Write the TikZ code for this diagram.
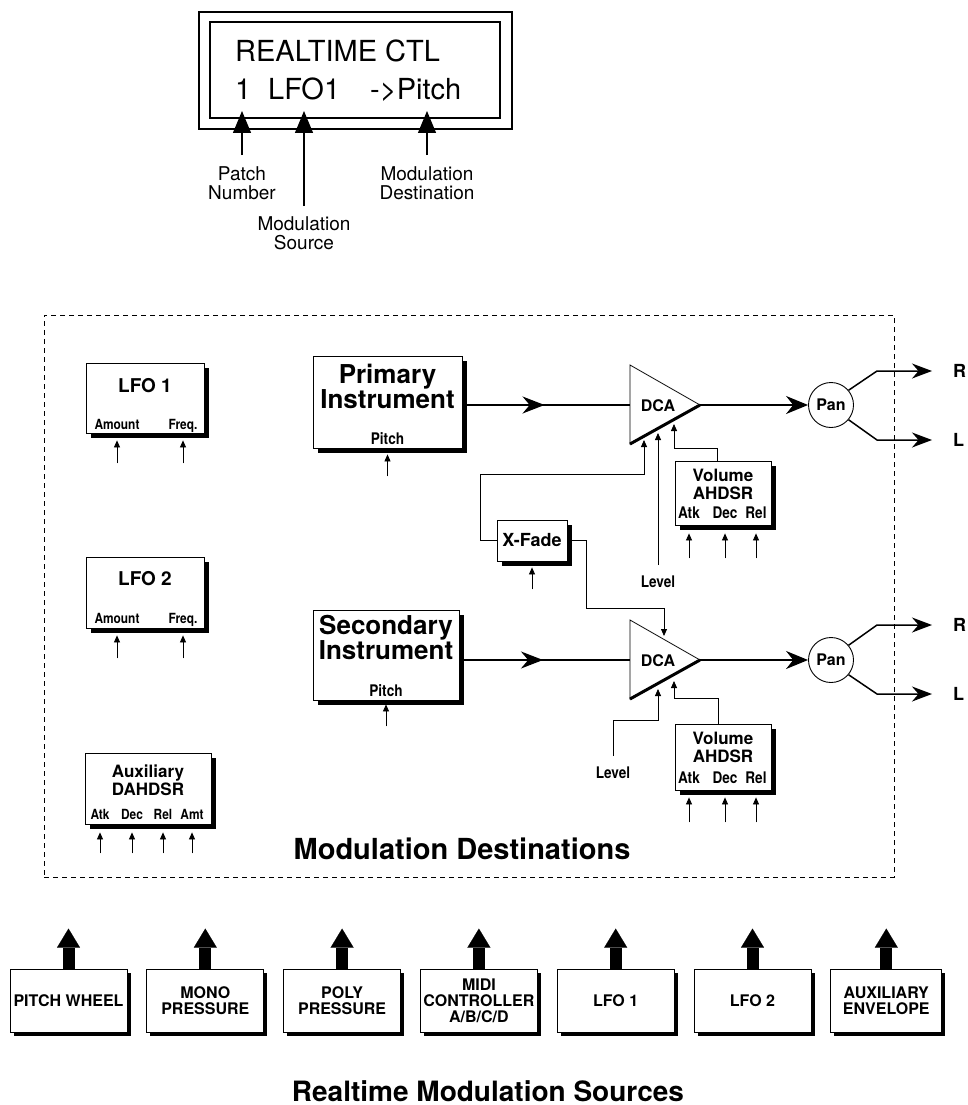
\documentclass[tikz,border=0pt]{standalone}
\usepackage{fontspec}
\setmainfont{TeX Gyre Heros}
\newfontfamily\narrowfont[FakeStretch=0.85]{TeX Gyre Heros}
\usetikzlibrary{arrows.meta, positioning, shadows, decorations.markings}

\begin{document}
\begin{tikzpicture}[
x=1pt, y=-1pt,
lcd/.style={font=\fontsize{29}{34}\selectfont, inner sep=0pt, anchor=base west},
note/.style={font=\fontsize{19}{19}\selectfont, align=center, inner sep=0pt, anchor=north},
pointer/.style={-{Triangle[length=22pt,width=18pt]}, line width=1.3pt},
box/.style={draw, fill=white, line width=0.8pt, inner sep=0pt, drop shadow={shadow xshift=4.5pt, shadow yshift=-4.5pt, opacity=1, fill=black}},
src/.style={draw, fill=white, line width=0.8pt, inner sep=0pt, minimum width=117pt, minimum height=63pt, align=center, font=\bfseries\fontsize{16}{16}\selectfont, drop shadow={shadow xshift=3.5pt, shadow yshift=-3.5pt, opacity=1, fill=black}},
heading/.style={font=\bfseries\fontsize{19}{19}\selectfont, inner sep=0pt, anchor=base},
subhead/.style={font=\bfseries\fontsize{17}{18}\selectfont, inner sep=0pt, align=center, anchor=north},
instname/.style={font=\bfseries\fontsize{26}{25}\selectfont, inner sep=0pt, align=center, anchor=north},
headline/.style={font=\bfseries\fontsize{29}{29}\selectfont, inner sep=0pt, anchor=base},
tag/.style={font=\narrowfont\bfseries\fontsize{14}{14}\selectfont, inner sep=0pt, anchor=base},
midtag/.style={font=\narrowfont\bfseries\fontsize{16}{16}\selectfont, inner sep=0pt, anchor=base},
dcatag/.style={font=\bfseries\fontsize{16}{16}\selectfont, inner sep=0pt},
chan/.style={font=\bfseries\fontsize{18}{18}\selectfont, inner sep=0pt},
pan/.style={draw, circle, fill=white, minimum size=45pt, inner sep=0pt, line width=0.9pt, font=\bfseries\fontsize{16}{16}\selectfont},
amp/.style={draw, line width=0.8pt},
ampedge/.style={line width=3pt},
ctl/.style={-{Triangle[length=7pt,width=6pt]}, line width=0.8pt},
sig/.style={line width=1.5pt},
midarrow/.style={postaction={decorate}, decoration={markings, mark=at position 0.49 with {\arrow{Stealth[length=22pt,width=17pt]}}}},
sigarrow/.style={sig, -{Stealth[length=22pt,width=18pt]}},
outarrow/.style={sig, -{Stealth[length=20pt,width=15pt]}},
fat/.style={line width=12pt, -{Triangle[length=19pt,width=23pt,line width=0.1pt]}}
]

\useasboundingbox (0,0) rectangle (968,1105);

\node[draw, line width=1.1pt, minimum width=313pt, minimum height=117pt] (lcdout) at (355.5,70.5) {};
\node[draw, line width=1.1pt, minimum width=290pt, minimum height=96pt] (lcdin) at (355,70) {};
\node[lcd] (lcdtop) at (235,62) {REALTIME CTL};
\node[lcd] (lcdnum) at (235,100) {1};
\node[lcd] (lcdsrc) at (268,100) {LFO1};
\node[lcd] (lcddst) at (370,100) {->Pitch};

\coordinate (pn) at (242,111);
\coordinate (ms) at (304,111);
\coordinate (md) at (427,111);
\node[note] (patch) at (242,166) {Patch\\Number};
\node[note] (msrc) at (304,216) {Modulation\\Source};
\node[note] (mdst) at (427,166) {Modulation\\Destination};
\draw[pointer] ([yshift=11pt]patch.north) -- (pn);
\draw[pointer] ([yshift=10pt]msrc.north) -- (ms);
\draw[pointer] ([yshift=11pt]mdst.north) -- (md);

\node[draw, dash pattern=on 5pt off 4pt, line width=0.8pt, minimum width=850pt, minimum height=562pt] (destarea) at (469,596) {};
\node[headline] (desttitle) at (462,859) {Modulation Destinations};

\node[box, minimum width=118pt, minimum height=70pt] (lfoa) at (145,398) {};
\node[heading] (lfoaname) at (145,392) {LFO 1};
\node[tag] (lfoaamt) at (117,429) {Amount};
\node[tag] (lfoafrq) at (183,429) {Freq.};

\node[box, minimum width=118pt, minimum height=71pt] (lfob) at (145,592.5) {};
\node[heading] (lfobname) at (145,585) {LFO 2};
\node[tag] (lfobamt) at (117,623) {Amount};
\node[tag] (lfobfrq) at (183,623) {Freq.};

\node[box, minimum width=126pt, minimum height=71pt] (aux) at (148,788.5) {};
\node[subhead] (auxname) at (148,765) {Auxiliary\\DAHDSR};
\node[tag] (auxatk) at (100,819) {Atk};
\node[tag] (auxdec) at (132,819) {Dec};
\node[tag] (auxrel) at (163,819) {Rel};
\node[tag] (auxamt) at (192,819) {Amt};

\draw[ctl] (lfoa.south -| lfoaamt) ++(0,30) -- ++(0,-23);
\draw[ctl] (lfoa.south -| lfoafrq) ++(0,30) -- ++(0,-23);
\draw[ctl] (lfob.south -| lfobamt) ++(0,30) -- ++(0,-23);
\draw[ctl] (lfob.south -| lfobfrq) ++(0,30) -- ++(0,-23);
\draw[ctl] (aux.south -| auxatk) ++(0,29) -- ++(0,-21);
\draw[ctl] (aux.south -| auxdec) ++(0,29) -- ++(0,-21);
\draw[ctl] (aux.south -| auxrel) ++(0,29) -- ++(0,-21);
\draw[ctl] (aux.south -| auxamt) ++(0,29) -- ++(0,-21);

\node[box, minimum width=149pt, minimum height=92pt] (prim) at (387.5,402) {};
\node[instname] (primname) at (387.5,364) {Primary\\Instrument};
\node[midtag] (primpitch) at (387.5,444) {Pitch};
\draw[ctl] (prim.south -| primpitch) ++(0,28) -- ++(0,-22);

\node[box, minimum width=146pt, minimum height=90pt] (sec) at (386,655) {};
\node[instname] (secname) at (386,615) {Secondary\\Instrument};
\node[midtag] (secpitch) at (386,696) {Pitch};
\draw[ctl] (sec.south -| secpitch) ++(0,26) -- ++(0,-22);

\coordinate (dca1in) at (630,405);
\coordinate (dca1out) at (700,405);
\draw[amp] (630,365) -- (dca1out) -- (630,444) -- cycle;
\draw[ampedge] (630,444) -- (dca1out);
\node[dcatag] (dca1) at (658,406) {DCA};

\coordinate (dca2in) at (630,660);
\coordinate (dca2out) at (700,660);
\draw[amp] (630,620) -- (dca2out) -- (630,699) -- cycle;
\draw[ampedge] (630,699) -- (dca2out);
\node[dcatag] (dca2) at (658,661) {DCA};

\draw[sig, midarrow] (prim.east |- dca1in) -- (dca1in);
\draw[sig, midarrow] (sec.east |- dca2in) -- (dca2in);

\node[pan] (pan1) at (831,405) {Pan};
\node[pan] (pan2) at (831,660) {Pan};
\draw[sigarrow] (dca1out) -- (pan1);
\draw[sigarrow] (dca2out) -- (pan2);

\coordinate (r1) at (932,371);
\coordinate (l1) at (932,440);
\coordinate (r2) at (932,625);
\coordinate (l2) at (932,694);
\draw[outarrow] (pan1.40) -- ([xshift=-55pt]r1) -- (r1);
\draw[outarrow] (pan1.-40) -- ([xshift=-55pt]l1) -- (l1);
\draw[outarrow] (pan2.40) -- ([xshift=-55pt]r2) -- (r2);
\draw[outarrow] (pan2.-40) -- ([xshift=-55pt]l2) -- (l2);
\node[chan, right=21pt of r1] (rch1) {R};
\node[chan, right=21pt of l1] (lch1) {L};
\node[chan, right=21pt of r2] (rch2) {R};
\node[chan, right=21pt of l2] (lch2) {L};

\node[box, minimum width=96pt, minimum height=64pt] (vola) at (723,493) {};
\node[subhead] (volaname) at (723,469) {Volume\\AHDSR};
\node[midtag] (volaatk) at (689,518) {Atk};
\node[midtag] (voladec) at (725,518) {Dec};
\node[midtag] (volarel) at (756,518) {Rel};

\node[box, minimum width=96pt, minimum height=66pt] (volb) at (723,757) {};
\node[subhead] (volbname) at (723,732) {Volume\\AHDSR};
\node[midtag] (volbatk) at (689,783) {Atk};
\node[midtag] (volbdec) at (725,783) {Dec};
\node[midtag] (volbrel) at (756,783) {Rel};

\draw[ctl] (vola.south -| volaatk) ++(0,33) -- ++(0,-25);
\draw[ctl] (vola.south -| voladec) ++(0,33) -- ++(0,-25);
\draw[ctl] (vola.south -| volarel) ++(0,33) -- ++(0,-25);
\draw[ctl] (volb.south -| volbatk) ++(0,32) -- ++(0,-25);
\draw[ctl] (volb.south -| volbdec) ++(0,32) -- ++(0,-25);
\draw[ctl] (volb.south -| volbrel) ++(0,32) -- ++(0,-25);

\coordinate (xa1) at (644,440);
\coordinate (lv1) at (658,433);
\coordinate (va1) at (674,424);
\coordinate (xb2) at (664,636);
\coordinate (lv2) at (658,689);
\coordinate (va2) at (674,681);

\node[box, minimum width=70pt, minimum height=41pt, font=\bfseries\fontsize{18}{18}\selectfont] (xfade) at (532,540.5) {X-Fade};
\draw[ctl] (xfade.south) ++(0,28) -- ++(0,-22);
\draw[ctl] (xfade.west) -- ++(-16,0) |- ([yshift=-34pt]xa1) -- (xa1);
\draw[ctl] (xfade.east) -- ++(19,0) |- ([yshift=28pt]xb2) -- (xb2);

\node[midtag] (leva) at (658,587) {Level};
\node[midtag] (levb) at (613,778) {Level};
\draw[ctl] ([yshift=10pt]leva.north) -- (lv1);
\draw[ctl] ([yshift=10pt]levb.north) |- ([yshift=-31pt]lv2) -- (lv2);

\draw[ctl] ([xshift=-6pt]vola.north) |- ([yshift=-24pt]va1) -- (va1);
\draw[ctl] ([xshift=-5pt]volb.north) |- ([yshift=-17pt]va2) -- (va2);

\node[src] (pw) at (68.5,1000.5) {PITCH WHEEL};
\node[src, right=19pt of pw] (mono) {MONO\\PRESSURE};
\node[src, right=19pt of mono] (poly) {POLY\\PRESSURE};
\node[src, right=19pt of poly] (midi) {MIDI\\CONTROLLER\\A/B/C/D};
\node[src, right=19pt of midi] (lfo1src) {LFO 1};
\node[src, right=19pt of lfo1src] (lfo2src) {LFO 2};
\node[src, right=19pt of lfo2src, minimum width=111pt] (auxsrc) {AUXILIARY\\ENVELOPE};

\draw[fat] (pw.north) -- ++(0,-40);
\draw[fat] (mono.north) -- ++(0,-40);
\draw[fat] (poly.north) -- ++(0,-40);
\draw[fat] (midi.north) -- ++(0,-40);
\draw[fat] (lfo1src.north) -- ++(0,-40);
\draw[fat] (lfo2src.north) -- ++(0,-40);
\draw[fat] (auxsrc.north) -- ++(0,-40);

\node[headline, font=\bfseries\fontsize{28}{28}\selectfont] (srctitle) at (488,1101) {Realtime Modulation Sources};

\end{tikzpicture}
\end{document}
